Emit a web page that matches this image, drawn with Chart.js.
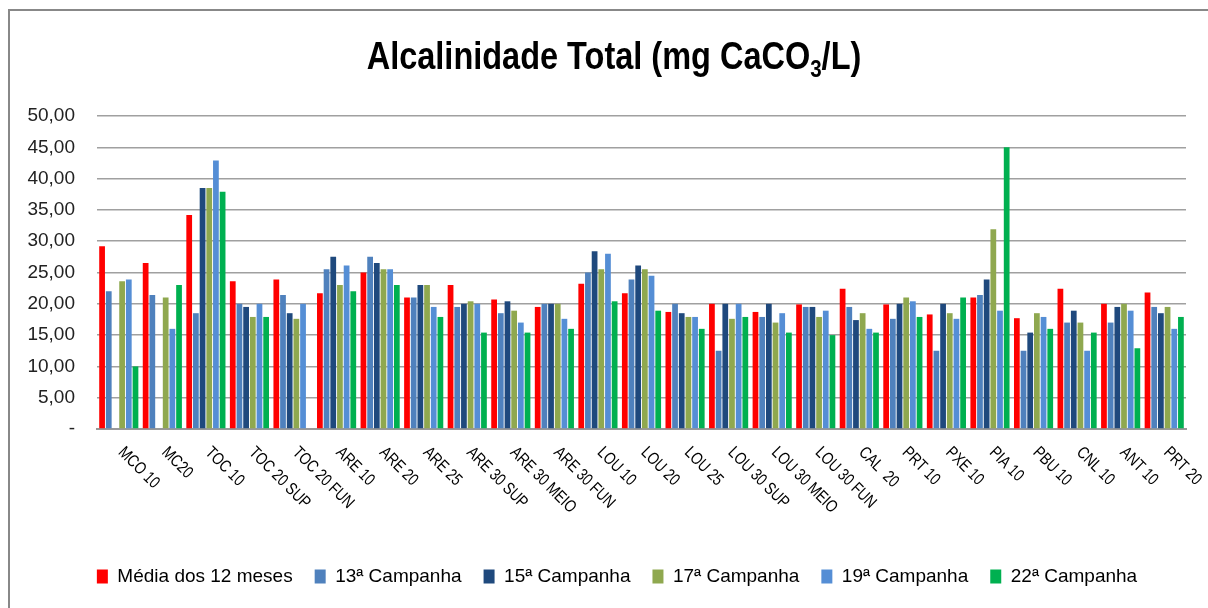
<!DOCTYPE html>
<html>
<head>
<meta charset="utf-8">
<script src="https://cdn.jsdelivr.net/npm/chart.js@4"></script>
<style>
  html, body { margin: 0; padding: 0; background: #fff; }
  #wrap { width: 1208px; height: 608px; position: relative; }
</style>
</head>
<body>
<div id="wrap"><canvas id="myChart" width="1208" height="608"></canvas></div>
<script>
const categories = ['MCO 10', 'MC20', 'TOC 10', 'TOC 20 SUP', 'TOC 20 FUN', 'ARE 10', 'ARE 20', 'ARE 25',
  'ARE 30 SUP', 'ARE 30 MEIO', 'ARE 30 FUN', 'LOU 10', 'LOU 20', 'LOU 25', 'LOU 30 SUP', 'LOU 30 MEIO',
  'LOU 30 FUN', 'CAL  20', 'PRT 10', 'PXE 10', 'PIA 10', 'PBU 10', 'CNL 10', 'ANT 10', 'PRT 20'];

const media12 = [29.2, 26.5, 34.2, 23.6, 23.9, 21.7, 25.0, 21.0, 23.0, 20.7, 19.5, 23.2, 21.7, 18.7, 20.0, 18.7, 19.9, 22.4, 19.9, 18.3, 21.0, 17.7, 22.4, 20.0, 21.8];
const camp13 = [22.0, 21.4, 18.5, 20.0, 21.4, 25.5, 27.5, 21.0, 19.5, 18.5, 20.0, 25.0, 23.9, 20.0, 12.5, 17.9, 19.5, 19.5, 17.6, 12.5, 21.4, 12.5, 17.0, 17.0, 19.5];
const camp15 = [null, null, 38.5, 19.5, 18.5, 27.5, 26.5, 23.0, 20.0, 20.4, 20.0, 28.4, 26.1, 18.5, 20.0, 20.0, 19.5, 17.4, 20.0, 20.0, 23.9, 15.4, 18.9, 19.5, 18.5];
const camp17 = [23.6, 21.0, 38.5, 17.9, 17.6, 23.0, 25.5, 23.0, 20.4, 18.9, 20.0, 25.5, 25.5, 17.9, 17.6, 17.0, 17.9, 18.5, 21.0, 18.5, 31.9, 18.5, 17.0, 20.0, 19.5];
const camp19 = [23.9, 16.0, 42.9, 20.0, 20.0, 26.1, 25.5, 19.5, 20.0, 17.0, 17.6, 28.0, 24.5, 17.9, 20.0, 18.5, 18.9, 16.0, 20.4, 17.6, 18.9, 17.9, 12.5, 18.9, 16.0];
const camp22 = [10.0, 23.0, 37.9, 17.9, null, 22.0, 23.0, 17.9, 15.4, 15.4, 16.0, 20.4, 18.9, 16.0, 17.9, 15.4, 15.0, 15.4, 17.9, 21.0, 45.0, 16.0, 15.4, 12.9, 17.9];

const seriesNames = ['Média dos 12 meses', '13ª Campanha', '15ª Campanha', '17ª Campanha', '19ª Campanha', '22ª Campanha'];
const seriesColors = ['#FF0000', '#4F81BD', '#1F497D', '#8FA84F', '#558ED5', '#00B050'];
const seriesData = [media12, camp13, camp15, camp17, camp19, camp22];

const FONT = "'Liberation Sans', Arial, sans-serif";

// title with subscript, frame and rotated category labels
const decor = {
  id: 'decor',
  afterLayout(chart) {
    // legend sits a bit right of centre in the original
    chart.legend.left += 24;
    chart.legend.right += 24;
  },
  afterDraw(chart) {
    const ctx = chart.ctx;
    ctx.save();
    // frame
    ctx.strokeStyle = '#888';
    ctx.lineWidth = 2;
    ctx.beginPath();
    ctx.moveTo(9, 608);
    ctx.lineTo(9, 10);
    ctx.lineTo(1208, 10);
    ctx.stroke();

    // title
    ctx.fillStyle = '#000';
    ctx.textBaseline = 'alphabetic';
    ctx.textAlign = 'left';
    const sx = 0.855;
    const big = 'bold 38px ' + FONT, small = 'bold 24px ' + FONT;
    const p1 = 'Alcalinidade Total (mg CaCO', p2 = '3', p3 = '/L)';
    ctx.font = big; const w1 = ctx.measureText(p1).width, w3 = ctx.measureText(p3).width;
    ctx.font = small; const w2 = ctx.measureText(p2).width;
    const total = (w1 + w2 + w3) * sx;
    ctx.translate(614 - total / 2, 69);
    ctx.scale(sx, 1);
    ctx.font = big; ctx.fillText(p1, 0, 0);
    ctx.font = small; ctx.fillText(p2, w1, 8);
    ctx.font = big; ctx.fillText(p3, w1 + w2, 0);
    ctx.restore();

    // category labels, rotated down to the right
    const xs = chart.scales.x;
    ctx.save();
    ctx.fillStyle = '#000';
    ctx.font = '17px ' + FONT;
    ctx.textAlign = 'left';
    ctx.textBaseline = 'top';
    categories.forEach((c, i) => {
      const x = xs.getPixelForValue(i);
      ctx.save();
      ctx.translate(x + 8, 444);
      ctx.rotate(Math.PI / 4);
      ctx.scale(0.8, 1);
      ctx.fillText(c, 0, 0);
      ctx.restore();
    });
    ctx.restore();
  }
};

const ctx = document.getElementById('myChart');
new Chart(ctx, {
  type: 'bar',
  data: {
    labels: categories,
    datasets: seriesNames.map((name, i) => ({
      label: name,
      data: seriesData[i],
      backgroundColor: seriesColors[i],
      borderWidth: 0,
      categoryPercentage: 0.92,
      barPercentage: 0.86
    }))
  },
  options: {
    responsive: false,
    animation: false,
    layout: { padding: { left: 0, right: 22, top: 116, bottom: 12 } },
    scales: {
      x: {
        afterFit(scale) { scale.height = 116; },
        ticks: { display: false },
        grid: { display: false, drawTicks: false },
        border: { display: true, color: '#999', width: 2 }
      },
      y: {
        min: 0,
        max: 50,
        afterFit(scale) { scale.width = 97; },
        ticks: {
          stepSize: 5,
          padding: 22,
          color: '#222',
          font: { family: FONT, size: 19 },
          callback: v => v === 0 ? '-' : v.toFixed(2).replace('.', ',')
        },
        grid: { color: '#A0A0A0', lineWidth: 1.5, drawTicks: false },
        border: { display: false }
      }
    },
    plugins: {
      title: { display: false },
      tooltip: { enabled: false },
      legend: {
        position: 'bottom',
        labels: {
          boxWidth: 11,
          boxHeight: 14,
          padding: 22,
          color: '#000',
          font: { family: FONT, size: 19 }
        }
      }
    }
  },
  plugins: [decor]
});
</script>
</body>
</html>
